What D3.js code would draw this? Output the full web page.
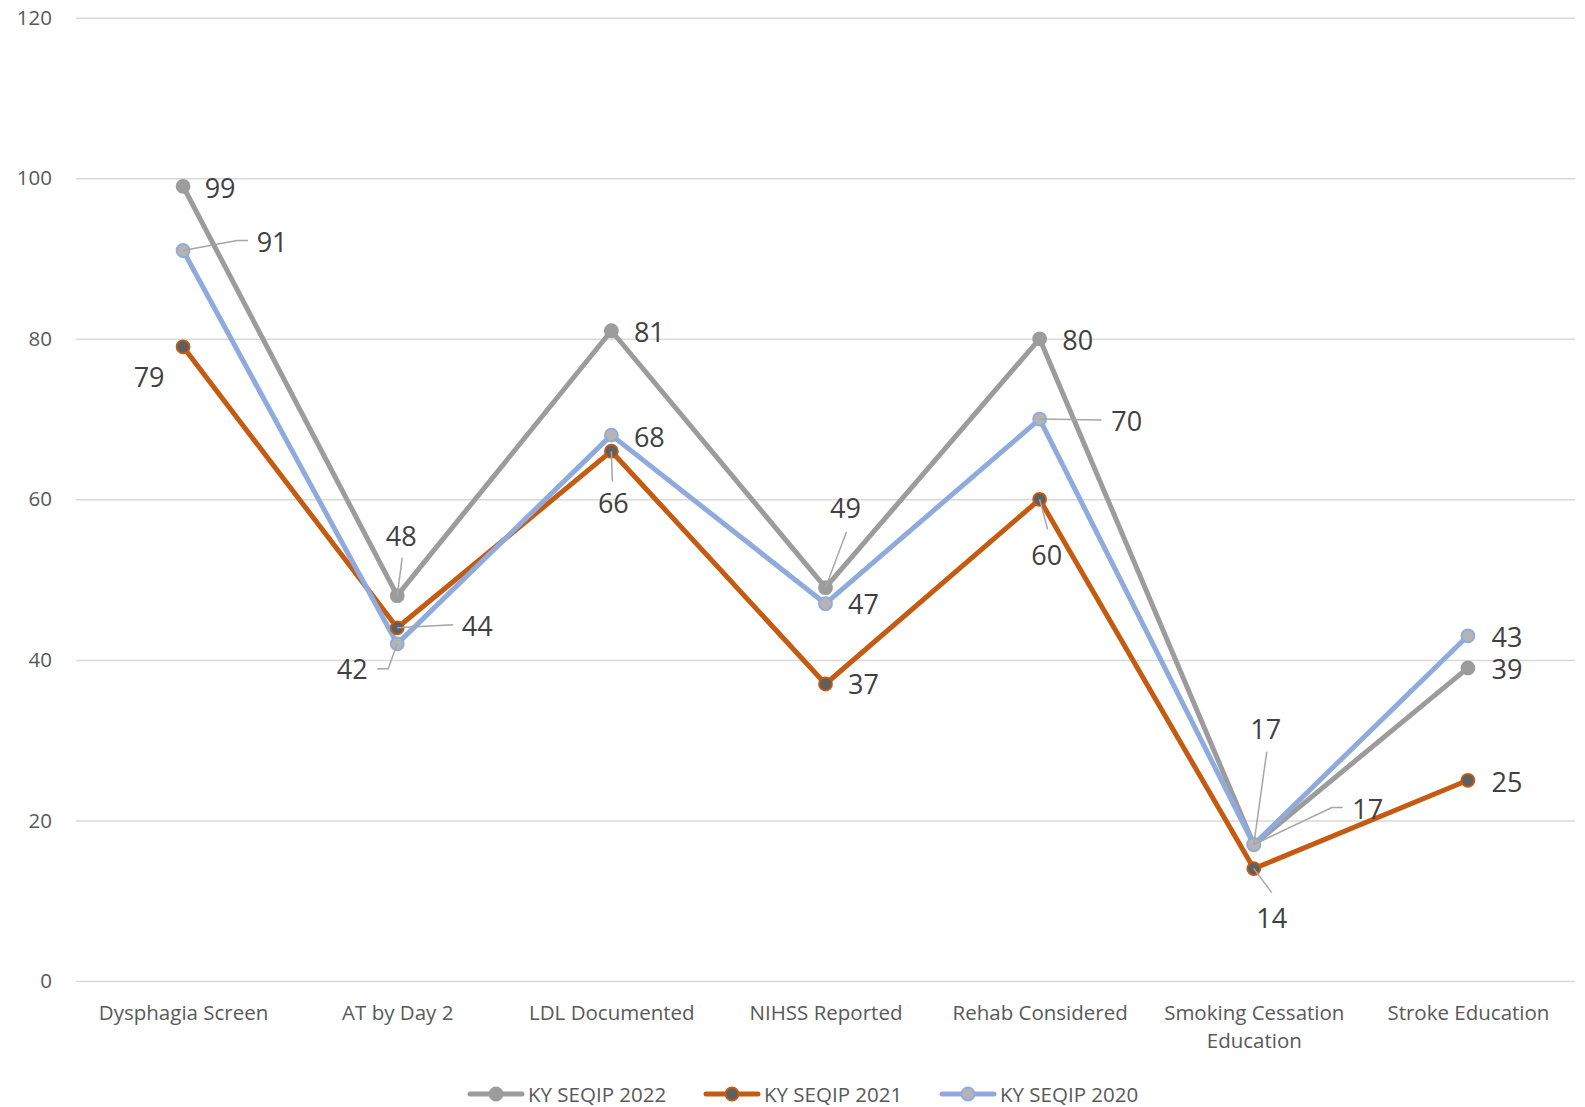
<!DOCTYPE html>
<html lang="en">
<head>
<meta charset="utf-8">
<title>KY SEQIP</title>
<script src="https://cdn.jsdelivr.net/npm/d3@7/dist/d3.min.js"></script>
<style>
  html, body { margin: 0; padding: 0; background: #fff; overflow: hidden; }
  text { font-family: "Open Sans", sans-serif; fill: #595959; }
  .tick text { font-size: 20.5px; }
  .dlabel { font-size: 27px; fill: #404040; }
  .legend text { font-size: 20.5px; }
</style>
</head>
<body>
<div id="chart"></div>
<script>
// ---- data ----
var categories = ["Dysphagia Screen", "AT by Day 2", "LDL Documented", "NIHSS Reported",
                  "Rehab Considered", "Smoking Cessation Education", "Stroke Education"];
var seriesNames = ["KY SEQIP 2022", "KY SEQIP 2021", "KY SEQIP 2020"];
var values2022 = [99, 48, 81, 49, 80, 17, 39];
var values2021 = [79, 44, 66, 37, 60, 14, 25];
var values2020 = [91, 42, 68, 47, 70, 17, 43];
var yTicks = [0, 20, 40, 60, 80, 100, 120];

// ---- layout ----
var W = 1585, H = 1107;
var mLeft = 76, mRight = 1575, mTop = 17.7, mBottom = 981;

var styles = [
  {line: "#9c9c9c", fill: "#9c9c9c", stroke: "#9c9c9c"},
  {line: "#c55a11", fill: "#5f5f5f", stroke: "#c55a11"},
  {line: "#8faadc", fill: "#b4b4b4", stroke: "#8faadc"}
];

// label offsets from the point (label centre) and optional leader polyline (from label side to point)
var labelPos = [
  [[37,1,null],[4,-60,[[5,-38]]],[38,1,null],[20,-80,[[21,-56]]],[38,1,null],[12,-116,[[13,-93]]],[39,1,null]],
  [[-34,30,null],[80,-2,[[56,-3]]],[2,51,[[1,30]]],[38,0,null],[7,55,[[8,30]]],[18,49,[[18,24]]],[39,1,null]],
  [[89,-9,[[65,-10],[54,-10]]],[-45,25,[[-20,25],[-9,25]]],[38,1,null],[38,0,null],[87,1,[[62,1]]],[114,-36,[[89,-37],[78,-37]]],[39,1,null]]
];

var svg = d3.select("#chart").append("svg")
  .attr("width", W).attr("height", H);

var x = d3.scalePoint().domain(categories).range([mLeft, mRight]).padding(0.5);
var y = d3.scaleLinear().domain([0, 120]).range([mBottom, mTop]);

// gridlines + y labels
var yAxis = svg.append("g")
  .attr("transform", "translate(" + mLeft + ",0)")
  .call(d3.axisLeft(y).tickValues(yTicks).tickSize(-(mRight - mLeft)).tickPadding(24));
yAxis.select(".domain").remove();
yAxis.selectAll(".tick line").attr("stroke", "#d9d9d9").attr("stroke-width", 1.5);

// x labels
var xAxis = svg.append("g")
  .attr("transform", "translate(0," + mBottom + ")")
  .call(d3.axisBottom(x).tickSize(0).tickPadding(24));
xAxis.select(".domain").remove();
xAxis.selectAll(".tick text").each(function(d) {
  var t = d3.select(this);
  if (d.length > 20) {
    var words = d.split(" ");
    t.text(null);
    t.append("tspan").attr("x", 0).attr("dy", "0.71em").text(words.slice(0, 2).join(" "));
    t.append("tspan").attr("x", 0).attr("dy", "1.4em").text(words.slice(2).join(" "));
    t.attr("dy", null);
  }
});

var allSeries = [values2022, values2021, values2020];
var line = d3.line().x(function(d, i) { return x(categories[i]); }).y(function(d) { return y(d); });

allSeries.forEach(function(vals, s) {
  svg.append("path").datum(vals)
    .attr("d", line)
    .attr("fill", "none")
    .attr("stroke", styles[s].line)
    .attr("stroke-width", 5)
    .attr("stroke-linejoin", "round");
});

allSeries.forEach(function(vals, s) {
  svg.selectAll(".m" + s).data(vals).enter().append("circle")
    .attr("cx", function(d, i) { return x(categories[i]); })
    .attr("cy", function(d) { return y(d); })
    .attr("r", 6.5)
    .attr("fill", styles[s].fill)
    .attr("stroke", styles[s].stroke)
    .attr("stroke-width", 1.8);
});

// data labels and leader lines
allSeries.forEach(function(vals, s) {
  vals.forEach(function(v, i) {
    var px = x(categories[i]), py = y(v);
    var p = labelPos[s][i];
    if (p[2]) {
      var pts = p[2].map(function(q) { return [px + q[0], py + q[1]]; });
      pts.push([px, py]);
      svg.append("path")
        .attr("d", d3.line()(pts))
        .attr("fill", "none")
        .attr("stroke", "#a6a6a6")
        .attr("stroke-width", 1.5);
    }
    svg.append("text").attr("class", "dlabel")
      .attr("x", px + p[0]).attr("y", py + p[1])
      .attr("text-anchor", "middle")
      .attr("dominant-baseline", "central")
      .text(v);
  });
});

// legend
var legendX = [470, 706, 942];
var legend = svg.append("g").attr("class", "legend");
seriesNames.forEach(function(name, s) {
  var g = legend.append("g").attr("transform", "translate(" + legendX[s] + ",1094)");
  g.append("line").attr("x1", 0).attr("x2", 52).attr("y1", 0).attr("y2", 0)
    .attr("stroke", styles[s].line).attr("stroke-width", 5).attr("stroke-linecap", "round");
  g.append("circle").attr("cx", 26).attr("cy", 0).attr("r", 6.5)
    .attr("fill", styles[s].fill).attr("stroke", styles[s].stroke).attr("stroke-width", 1.8);
  g.append("text").attr("x", 58).attr("y", 0).attr("dominant-baseline", "central").text(name);
});
</script>
</body>
</html>
